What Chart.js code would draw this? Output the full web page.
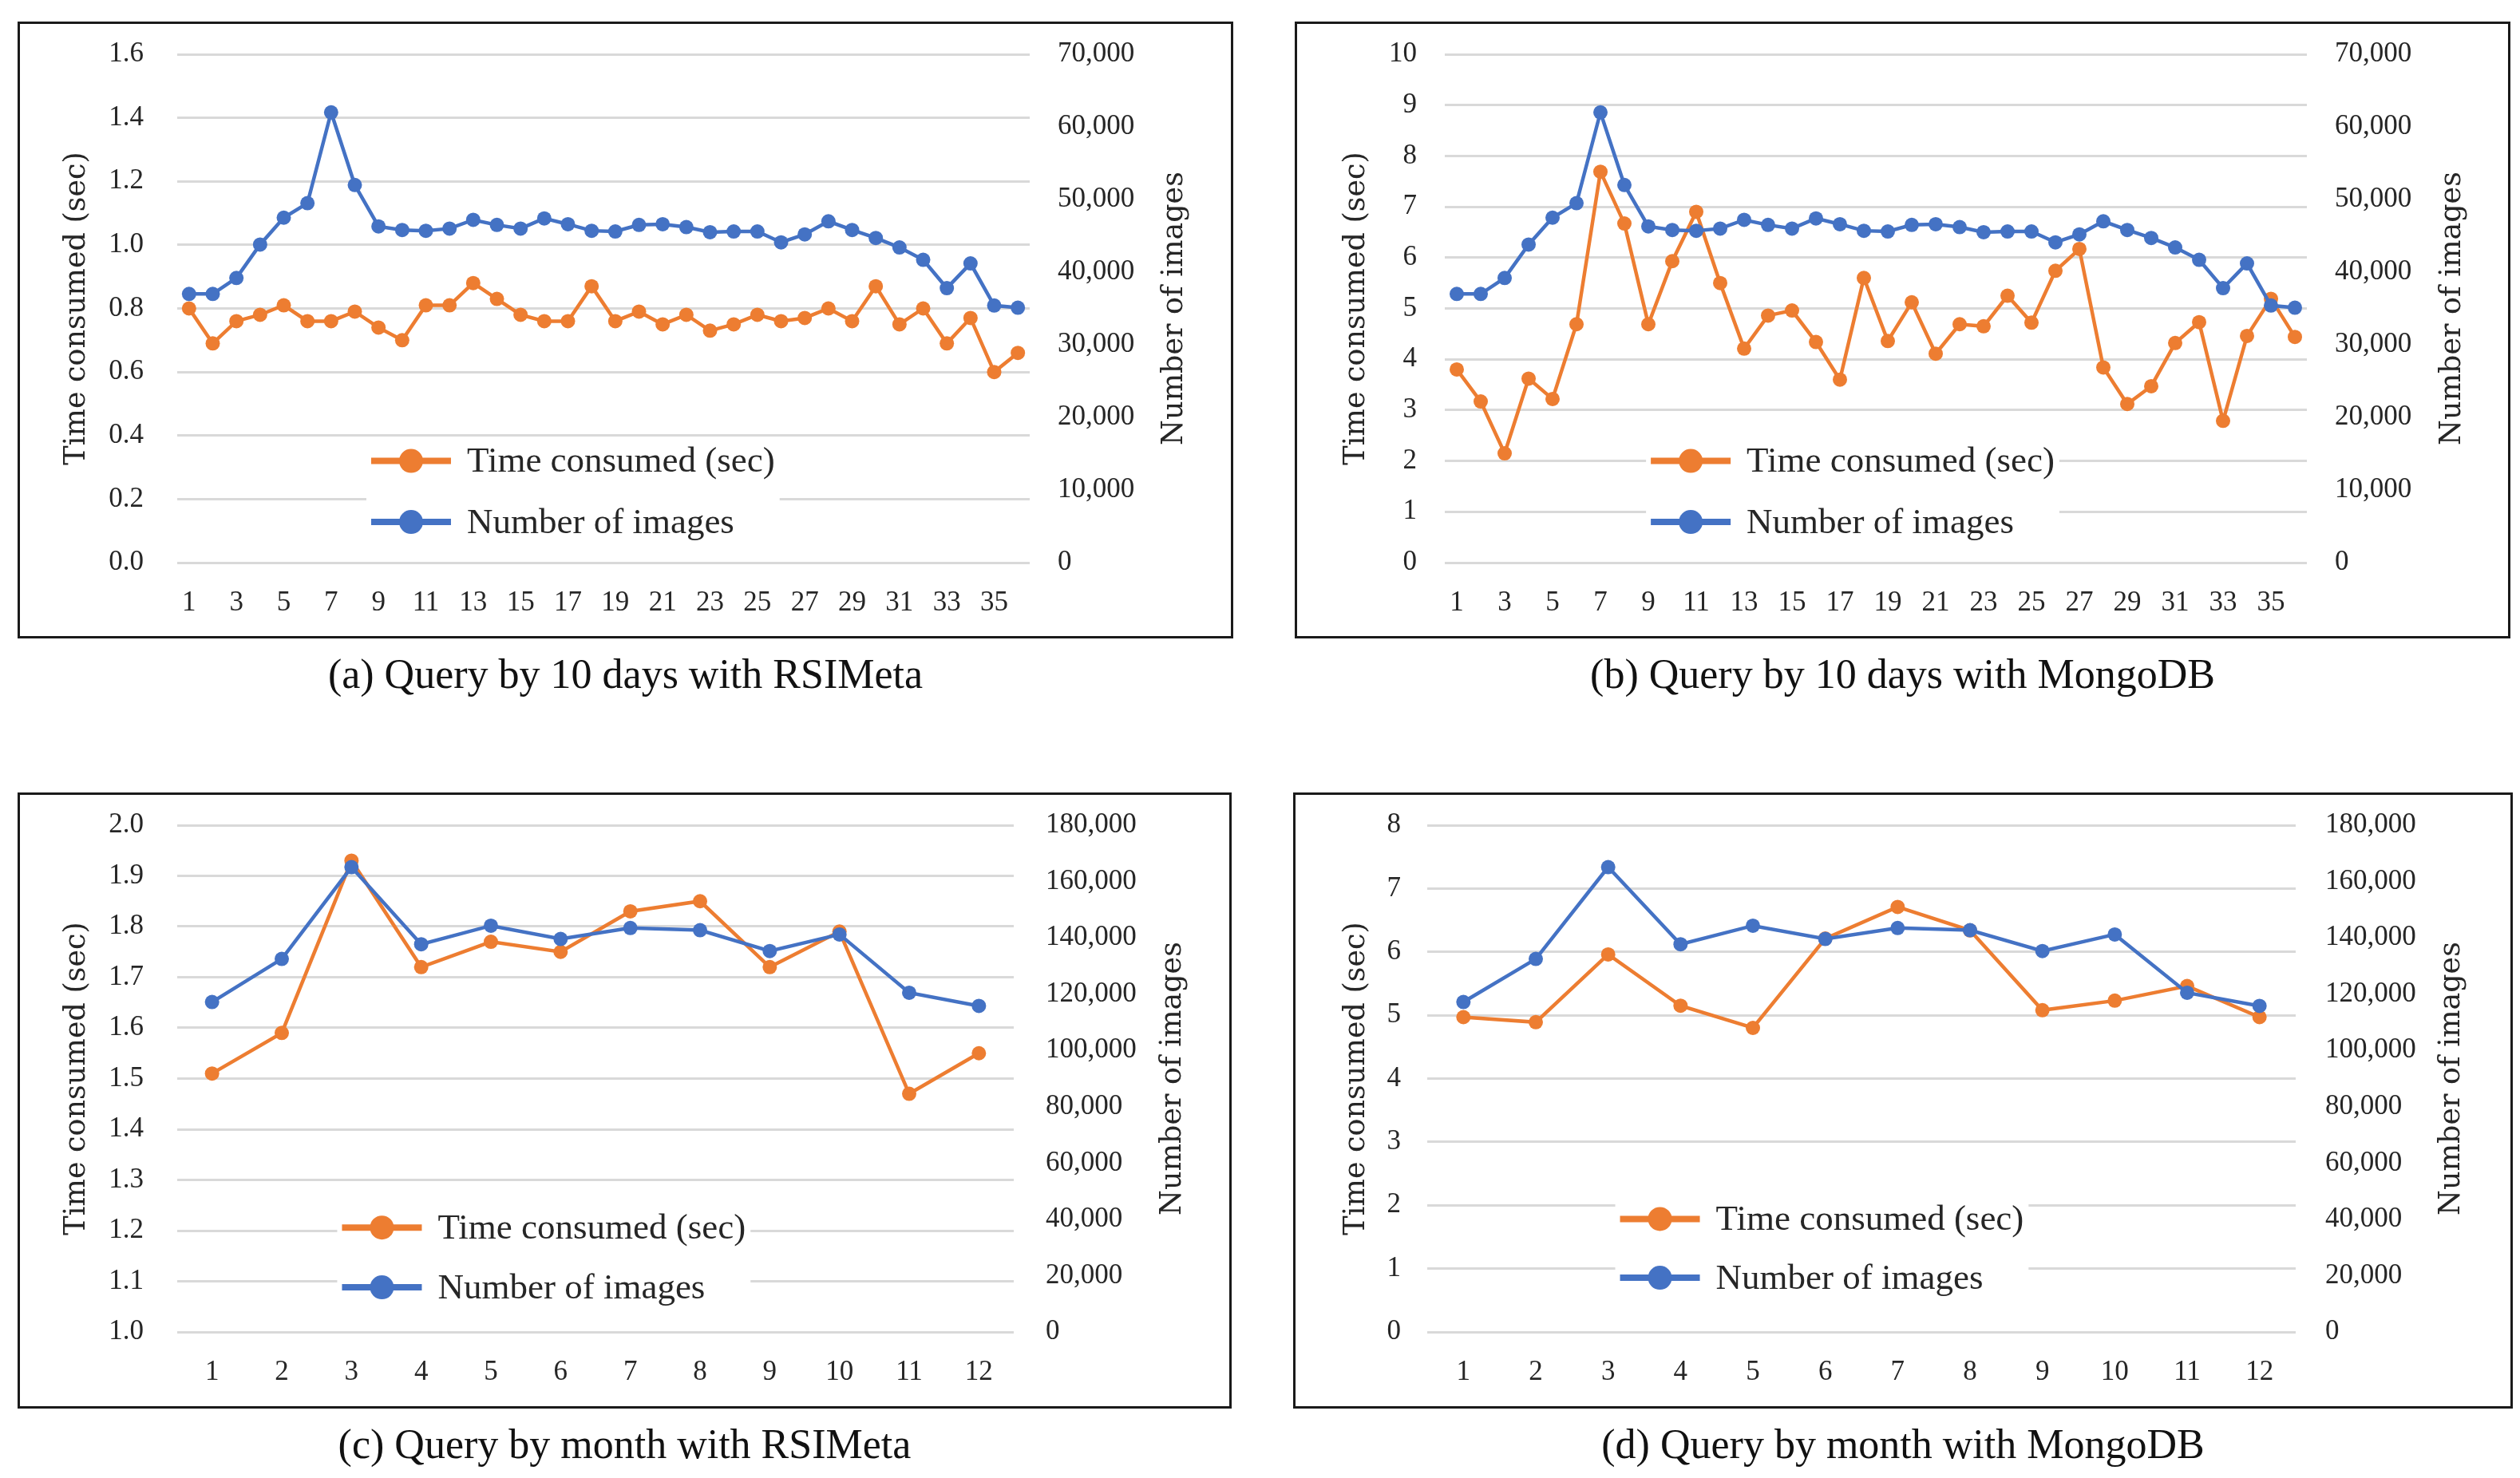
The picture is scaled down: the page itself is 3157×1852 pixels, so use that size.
<!DOCTYPE html>
<html>
<head>
<meta charset="utf-8">
<title>Query time vs number of images</title>
<script src="https://cdn.jsdelivr.net/npm/chart.js@4.4.1/dist/chart.umd.min.js"></script>
<style>
    html, body { margin: 0; padding: 0; background: #fff; }
    #page { position: relative; width: 3157px; height: 1852px; overflow: hidden; background: #fff; }
    .box { position: absolute; border: 3px solid #1a1a1a; box-sizing: border-box; background: #fff; }
    .box canvas { display: block; }
    .caption { position: absolute; font-family: "Liberation Serif", serif; font-size: 52px; color: #111;
               text-align: center; white-space: nowrap; line-height: 60px; }
</style>
</head>
<body>
<div id="page">
    <div class="box" style="left:22px; top:27px; width:1523px; height:773px;"><canvas id="chartA" width="1517" height="767"></canvas></div>
    <div class="box" style="left:1622px; top:27px; width:1523px; height:773px;"><canvas id="chartB" width="1517" height="767"></canvas></div>
    <div class="box" style="left:22px; top:993px; width:1521px; height:772px;"><canvas id="chartC" width="1515" height="766"></canvas></div>
    <div class="box" style="left:1620px; top:993px; width:1528px; height:772px;"><canvas id="chartD" width="1522" height="766"></canvas></div>

    <div class="caption" style="left:22px; width:1523px; top:815px;">(a) Query by 10 days with RSIMeta</div>
    <div class="caption" style="left:1622px; width:1523px; top:815px;">(b) Query by 10 days with MongoDB</div>
    <div class="caption" style="left:22px; width:1521px; top:1780px;">(c) Query by month with RSIMeta</div>
    <div class="caption" style="left:1620px; width:1528px; top:1780px;">(d) Query by month with MongoDB</div>
</div>

<script>
// categories
const dayLabels = ['1', '2', '3', '4', '5', '6', '7', '8', '9', '10', '11', '12',
    '13', '14', '15', '16', '17', '18', '19', '20', '21', '22', '23', '24',
    '25', '26', '27', '28', '29', '30', '31', '32', '33', '34', '35', '36'];
const monthLabels = ['1', '2', '3', '4', '5', '6', '7', '8', '9', '10', '11', '12'];

// query by 10 days
const daysImages = [37000, 37000, 39200, 43800, 47500, 49500, 62000, 52000, 46300, 45800, 45700, 46000,
    47200, 46500, 46000, 47400, 46600, 45700, 45600, 46500, 46600, 46200, 45500, 45600,
    45600, 44100, 45200, 47000, 45800, 44700, 43400, 41700, 37800, 41200, 35400, 35100];
const daysRsiTime = [0.80, 0.69, 0.76, 0.78, 0.81, 0.76, 0.76, 0.79, 0.74, 0.70, 0.81, 0.81,
    0.88, 0.83, 0.78, 0.76, 0.76, 0.87, 0.76, 0.79, 0.75, 0.78, 0.73, 0.75,
    0.78, 0.76, 0.77, 0.80, 0.76, 0.87, 0.75, 0.80, 0.69, 0.77, 0.60, 0.66];
const daysMongoTime = [3.80, 3.17, 2.15, 3.62, 3.22, 4.69, 7.69, 6.67, 4.69, 5.93, 6.90, 5.50,
    4.21, 4.86, 4.96, 4.34, 3.60, 5.60, 4.36, 5.12, 4.11, 4.69, 4.65, 5.25,
    4.72, 5.74, 6.17, 3.84, 3.12, 3.47, 4.32, 4.73, 2.79, 4.46, 5.19, 4.44];

// query by month
const monthImages = [117200, 132500, 165100, 137700, 144300, 139600, 143500, 142700, 135300, 141200, 120500, 115800];
const monthRsiTime = [1.51, 1.59, 1.93, 1.72, 1.77, 1.75, 1.83, 1.85, 1.72, 1.79, 1.47, 1.55];
const monthMongoTime = [4.97, 4.89, 5.96, 5.15, 4.80, 6.21, 6.71, 6.34, 5.08, 5.23, 5.46, 4.97];

// axis ranges [min, max, step]
const rsiDaysAxis = [0, 1.6, 0.2];
const mongoDaysAxis = [0, 10, 1];
const rsiMonthAxis = [1.0, 2.0, 0.1];
const mongoMonthAxis = [0, 8, 1];
const daysImageAxis = [0, 70000, 10000];
const monthImageAxis = [0, 180000, 20000];

const ORANGE = '#ED7D31';
const BLUE = '#4472C4';
const TEXT = '#262626';
const TICK_FONT = { family: '"Liberation Serif", serif', size: 35 };

// vertical axis titles, both reading bottom-to-top
const sideTitles = {
    id: 'sideTitles',
    afterDraw(chart, args, opts) {
        const { ctx, chartArea } = chart;
        const cy = (chartArea.top + chartArea.bottom) / 2;
        ctx.save();
        ctx.font = '36.5px "DejaVu Serif", serif';
        ctx.fillStyle = TEXT;
        ctx.textAlign = 'center';
        ctx.textBaseline = 'middle';
        [[opts.leftText, opts.leftX], [opts.rightText, opts.rightX]].forEach(([text, x]) => {
            ctx.save();
            ctx.translate(x, cy);
            ctx.rotate(-Math.PI / 2);
            ctx.fillText(text, 0, 0);
            ctx.restore();
        });
        ctx.restore();
    }
};

// legend drawn inside the plot area
const insideLegend = {
    id: 'insideLegend',
    afterDatasetsDraw(chart, args, opts) {
        const { ctx, chartArea } = chart;
        const x0 = chartArea.left + opts.x * (chartArea.right - chartArea.left);
        const h = chartArea.bottom - chartArea.top;
        ctx.save();
        ctx.font = '45px "Liberation Serif", serif';
        const rows = chart.data.datasets.map((ds, i) => ({ ds, y: chartArea.top + opts.rows[i] * h }));
        const textW = Math.max(...rows.map(r => ctx.measureText(r.ds.label).width));
        ctx.fillStyle = '#fff';
        ctx.fillRect(x0 - 6, rows[0].y - 30, 120 + textW + 12, rows[rows.length - 1].y - rows[0].y + 60);
        rows.forEach(({ ds, y }) => {
            ctx.strokeStyle = ds.borderColor;
            ctx.lineWidth = 8;
            ctx.beginPath();
            ctx.moveTo(x0, y);
            ctx.lineTo(x0 + 100, y);
            ctx.stroke();
            ctx.fillStyle = ds.borderColor;
            ctx.beginPath();
            ctx.arc(x0 + 50, y, 15, 0, Math.PI * 2);
            ctx.fill();
            ctx.fillStyle = TEXT;
            ctx.textAlign = 'left';
            ctx.textBaseline = 'middle';
            ctx.fillText(ds.label, x0 + 120, y + 2);
        });
        ctx.restore();
    }
};

function lineSet(label, data, color, axis, order) {
    return {
        label: label,
        data: data,
        yAxisID: axis,
        order: order,
        borderColor: color,
        backgroundColor: color,
        borderWidth: 4.5,
        pointRadius: 9,
        pointBackgroundColor: color,
        pointBorderWidth: 0,
        tension: 0,
        fill: false
    };
}

// fixed axis size; drop the label padding Chart.js adds above/below the plot
function fixSize(prop, size) {
    return function(scale) {
        scale[prop] = size;
        scale.paddingTop = 0;
        scale.paddingBottom = 0;
        scale.paddingLeft = 0;
        scale.paddingRight = 0;
    };
}

function createPanel(canvasId, labels, timeData, imageData, timeAxis, imageAxis, cfg) {
    const ctx = document.getElementById(canvasId).getContext('2d');
    const decimals = timeAxis[2] < 1 ? 1 : 0;

    return new Chart(ctx, {
        type: 'line',
        data: {
            labels: labels,
            datasets: [
                lineSet('Time consumed (sec)', timeData, ORANGE, 'y', 1),
                lineSet('Number of images', imageData, BLUE, 'y1', 0)
            ]
        },
        plugins: [sideTitles, insideLegend],
        options: {
            responsive: false,
            animation: false,
            devicePixelRatio: 1,
            layout: { padding: { top: cfg.top, left: 0, right: 0, bottom: 0 } },
            plugins: {
                legend: { display: false },
                tooltip: { enabled: false },
                sideTitles: {
                    leftText: 'Time consumed (sec)', leftX: cfg.leftTitleX,
                    rightText: 'Number of images', rightX: cfg.rightTitleX
                },
                insideLegend: { x: cfg.legendX, rows: cfg.legendRows }
            },
            scales: {
                x: {
                    offset: true,
                    grid: { display: false, drawTicks: false },
                    border: { display: false },
                    ticks: {
                        autoSkip: false,
                        maxRotation: 0,
                        padding: 30,
                        color: TEXT,
                        font: TICK_FONT,
                        callback: function(value, index) {
                            if (cfg.everyOther && index % 2 === 1) return '';
                            return this.getLabelForValue(value);
                        }
                    },
                    afterFit: fixSize('height', cfg.bottom)
                },
                y: {
                    position: 'left',
                    min: timeAxis[0],
                    max: timeAxis[1],
                    grid: { color: '#D9D9D9', lineWidth: 3, drawTicks: false },
                    border: { display: false },
                    ticks: {
                        stepSize: timeAxis[2],
                        padding: cfg.leftPad,
                        color: TEXT,
                        font: TICK_FONT,
                        callback: function(value) { return value.toFixed(decimals); }
                    },
                    afterFit: fixSize('width', cfg.leftW)
                },
                y1: {
                    position: 'right',
                    min: imageAxis[0],
                    max: imageAxis[1],
                    grid: { display: false, drawTicks: false },
                    border: { display: false },
                    ticks: {
                        stepSize: imageAxis[2],
                        padding: cfg.rightPad,
                        color: TEXT,
                        font: TICK_FONT,
                        callback: function(value) { return value.toLocaleString('en-US'); }
                    },
                    afterFit: fixSize('width', cfg.rightW)
                }
            }
        }
    });
}

createPanel('chartA', dayLabels, daysRsiTime, daysImages, rsiDaysAxis, daysImageAxis, {
    top: 38, bottom: 92, leftW: 197, rightW: 252, leftPad: 42, rightPad: 35,
    leftTitleX: 72, rightTitleX: 1447, legendX: 0.2275, legendRows: [0.80, 0.92], everyOther: true
});
createPanel('chartB', dayLabels, daysMongoTime, daysImages, mongoDaysAxis, daysImageAxis, {
    top: 38, bottom: 92, leftW: 185, rightW: 252, leftPad: 35, rightPad: 35,
    leftTitleX: 75, rightTitleX: 1448, legendX: 0.239, legendRows: [0.80, 0.92], everyOther: true
});
createPanel('chartC', monthLabels, monthRsiTime, monthImages, rsiMonthAxis, monthImageAxis, {
    top: 38, bottom: 93, leftW: 197, rightW: 270, leftPad: 42, rightPad: 40,
    leftTitleX: 72, rightTitleX: 1445, legendX: 0.197, legendRows: [0.794, 0.912], everyOther: false
});
createPanel('chartD', monthLabels, monthMongoTime, monthImages, mongoMonthAxis, monthImageAxis, {
    top: 38, bottom: 93, leftW: 165, rightW: 269, leftPad: 33, rightPad: 37,
    leftTitleX: 77, rightTitleX: 1449, legendX: 0.222, legendRows: [0.777, 0.893], everyOther: false
});
</script>
</body>
</html>
